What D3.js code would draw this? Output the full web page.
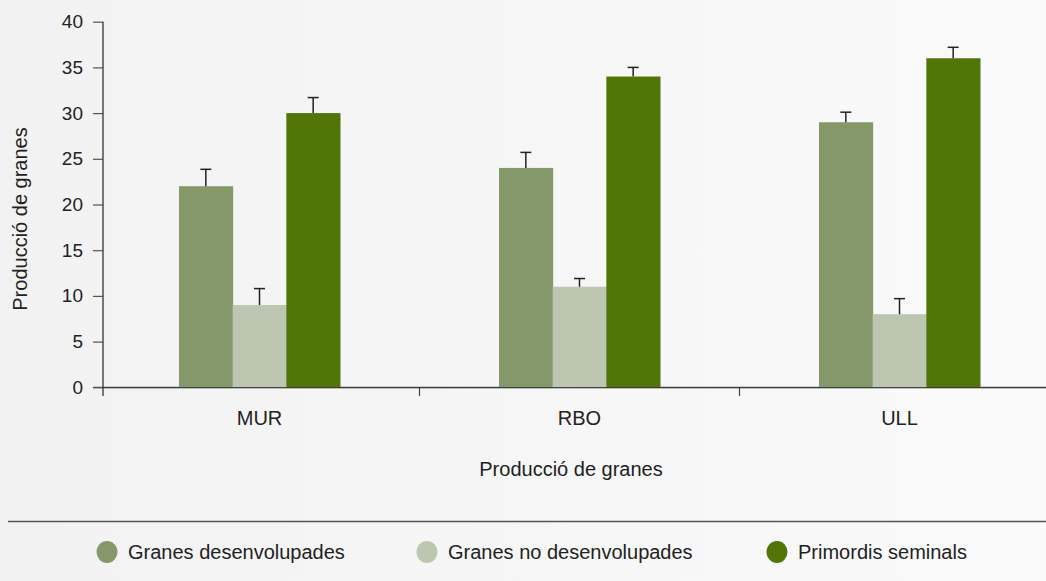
<!DOCTYPE html>
<html>
<head>
<meta charset="utf-8">
<script src="https://cdn.jsdelivr.net/npm/d3@7/dist/d3.min.js"></script>
<style>
  html, body { margin: 0; padding: 0; background: #f6f6f6; }
  svg { display: block; }
  text { font-family: "Liberation Sans", Arial, sans-serif; fill: #222; }
</style>
</head>
<body>
<svg id="chart" width="1046" height="581"></svg>
<script>
// Categories and series
const categories = ["MUR", "RBO", "ULL"];
const seriesNames = ["Granes desenvolupades", "Granes no desenvolupades", "Primordis seminals"];
const seriesColors = ["#84986a", "#bcc6b0", "#527508"];
const desenvolupades = [22, 24, 29];
const noDesenvolupades = [9, 11, 8];
const primordis = [30, 34, 36];
const errDesenvolupades = [1.85, 1.7, 1.1];
const errNoDesenvolupades = [1.8, 0.9, 1.7];
const errPrimordis = [1.7, 1.0, 1.2];
const yTicks = [0, 5, 10, 15, 20, 25, 30, 35, 40];
const axisTitle = "Producció de granes";

const seriesValues = [desenvolupades, noDesenvolupades, primordis];
const seriesErrors = [errDesenvolupades, errNoDesenvolupades, errPrimordis];

const svg = d3.select("#chart");
const W = 1046, H = 581;

// soft background gradient
const defs = svg.append("defs");
const grad = defs.append("linearGradient").attr("id", "bg").attr("x1", 0).attr("x2", 1).attr("y1", 0).attr("y2", 0);
grad.append("stop").attr("offset", "0%").attr("stop-color", "#f2f2f2");
grad.append("stop").attr("offset", "100%").attr("stop-color", "#fafafa");
svg.append("rect").attr("width", W).attr("height", H).attr("fill", "url(#bg)");

const axisX = 103;
const y = d3.scaleLinear().domain([0, 40]).range([387.3, 21.7]);
const x0 = d3.scaleBand().domain(categories).range([99.5, 1059.5]).padding(0);
const groupWidth = 161;
const x1 = d3.scaleBand().domain(seriesNames).range([0, groupWidth]).padding(0);

// horizontal base line
svg.append("line")
  .attr("x1", 93).attr("x2", W).attr("y1", y(0)).attr("y2", y(0))
  .attr("stroke", "#555").attr("stroke-width", 1.3);

// bars
const groups = svg.append("g").selectAll("g")
  .data(categories)
  .join("g")
  .attr("transform", c => `translate(${x0(c) + (x0.bandwidth() - groupWidth) / 2},0)`);

groups.each(function(c, ci) {
  const g = d3.select(this);
  seriesNames.forEach((s, si) => {
    const v = seriesValues[si][ci];
    const e = seriesErrors[si][ci];
    const bx = x1(s);
    const bw = x1.bandwidth();
    g.append("rect")
      .attr("x", bx).attr("width", bw + 0.5)
      .attr("y", y(v)).attr("height", y(0) - y(v))
      .attr("fill", seriesColors[si]);
    const cx = bx + bw / 2;
    g.append("line")
      .attr("x1", cx).attr("x2", cx).attr("y1", y(v)).attr("y2", y(v + e))
      .attr("stroke", "#222").attr("stroke-width", 1.5);
    g.append("line")
      .attr("x1", cx - 5.5).attr("x2", cx + 5.5).attr("y1", y(v + e)).attr("y2", y(v + e))
      .attr("stroke", "#222").attr("stroke-width", 1.5);
  });
});

// dark baseline below bars
svg.append("line")
  .attr("x1", axisX).attr("x2", W).attr("y1", y(0) + 0.5).attr("y2", y(0) + 0.5)
  .attr("stroke", "#333").attr("stroke-width", 1);

// y axis
const yAxis = d3.axisLeft(y).tickValues(yTicks).tickSize(10).tickPadding(10).tickFormat(d3.format("d"));
const yg = svg.append("g").attr("transform", `translate(${axisX},0)`).call(yAxis);
yg.select(".domain").remove();
yg.selectAll(".tick line").attr("stroke", "#555").attr("stroke-width", 1.2);
yg.selectAll(".tick text").style("font-size", "19px").attr("fill", "#222")
  .style("font-family", "Liberation Sans, Arial, sans-serif");
svg.append("line")
  .attr("x1", axisX).attr("x2", axisX).attr("y1", y(40)).attr("y2", 396)
  .attr("stroke", "#333").attr("stroke-width", 1.3);

// category separators below the axis
const sepPositions = categories.slice(1).map(c => x0(c));
svg.append("g").selectAll("line").data(sepPositions).join("line")
  .attr("x1", d => d).attr("x2", d => d).attr("y1", y(0)).attr("y2", 396)
  .attr("stroke", "#444").attr("stroke-width", 1.2);

// category labels
svg.append("g").selectAll("text").data(categories).join("text")
  .attr("x", c => x0(c) + x0.bandwidth() / 2)
  .attr("y", 425)
  .attr("text-anchor", "middle")
  .style("font-size", "20px")
  .text(c => c);

// axis titles
svg.append("text")
  .attr("x", 571).attr("y", 476)
  .attr("text-anchor", "middle")
  .style("font-size", "20px")
  .text(axisTitle);
svg.append("text")
  .attr("transform", "translate(27,219) rotate(-90)")
  .attr("text-anchor", "middle")
  .style("font-size", "20px")
  .text(axisTitle);

// legend separator
svg.append("line")
  .attr("x1", 8).attr("x2", W).attr("y1", 521.5).attr("y2", 521.5)
  .attr("stroke", "#555").attr("stroke-width", 1.5);

// legend
const legendX = [107, 427, 777];
const legend = svg.append("g").selectAll("g").data(seriesNames).join("g")
  .attr("transform", (d, i) => `translate(${legendX[i]},552)`);
legend.append("ellipse").attr("rx", 10.5).attr("ry", 11).attr("fill", (d, i) => seriesColors[i]);
legend.append("text").attr("x", 21).attr("y", 7)
  .style("font-size", "20px")
  .text(d => d);
</script>
</body>
</html>
